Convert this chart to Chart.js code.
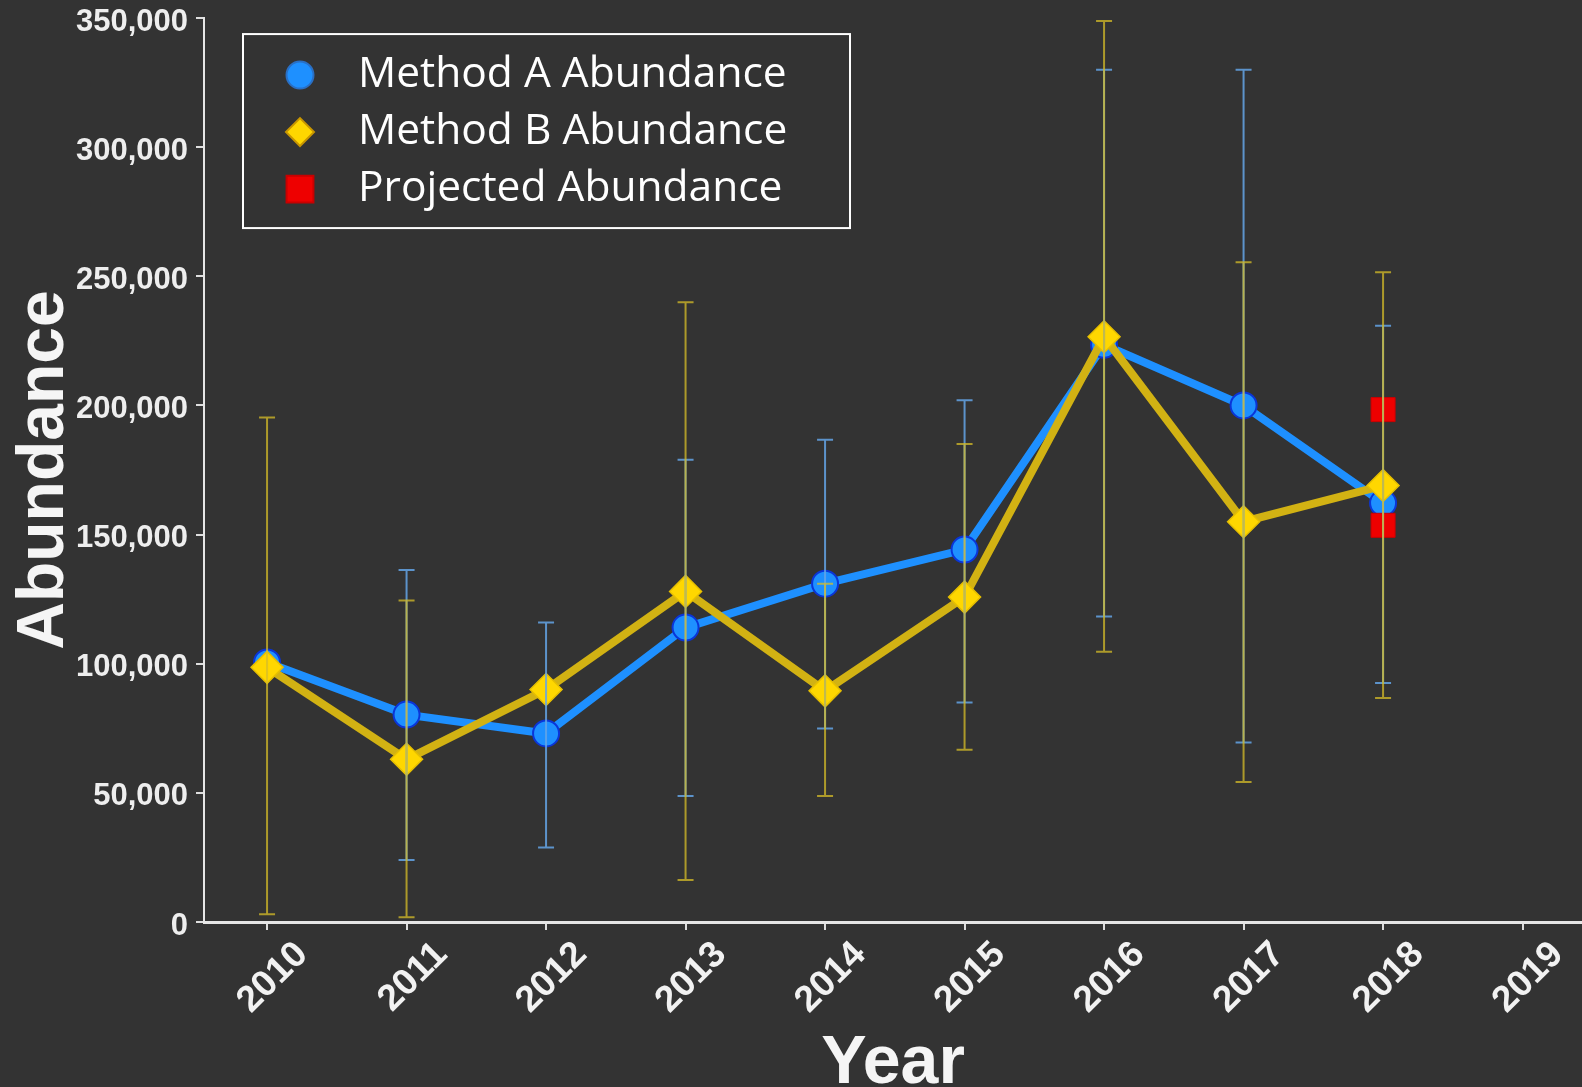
<!DOCTYPE html>
<html>
<head>
<meta charset="utf-8">
<script src="https://cdn.jsdelivr.net/npm/chart.js@4.4.1/dist/chart.umd.min.js"></script>
<style>
  html, body { margin: 0; padding: 0; background: #333333; overflow: hidden; }
  #wrap { position: relative; width: 1600px; height: 1087px; }
</style>
</head>
<body>
<div id="wrap"><canvas id="abundanceChart"></canvas></div>
<script>
// values
const years = [2010, 2011, 2012, 2013, 2014, 2015, 2016, 2017, 2018];
const methodA = [100500, 80300, 73000, 114000, 131000, 144200, 223500, 200000, 162200];
const methodB = [98600, 63000, 90000, 128000, 89500, 125800, 226600, 155000, 169000];
const methodALow = [null, 24000, 28800, 48800, 74900, 85000, 118300, 69500, 92500];
const methodAHigh = [null, 136300, 116000, 179000, 186700, 202000, 330000, 330000, 230900];
const methodBLow = [3000, 1800, null, 16300, 48800, 66700, 104600, 54200, 86700];
const methodBHigh = [195300, 124500, null, 240000, 131000, 185100, 348900, 255500, 251600];
const projectedYears = [2018, 2018];
const projected = [198400, 153600];
const tickYears = [2010, 2011, 2012, 2013, 2014, 2015, 2016, 2017, 2018, 2019];
const yTicks = [0, 50000, 100000, 150000, 200000, 250000, 300000, 350000];

const toPoints = (xs, ys) => xs.map((x, i) => ({ x: x, y: ys[i] }));

const errorBars = {
  id: 'errorBars',
  afterDatasetsDraw(chart) {
    const ctx = chart.ctx;
    const xs = chart.scales.x;
    const ys = chart.scales.y;
    const sets = [
      { low: methodALow, high: methodAHigh, color: 'rgba(100,165,230,0.85)' },
      { low: methodBLow, high: methodBHigh, color: 'rgba(215,190,40,0.75)' }
    ];
    ctx.save();
    ctx.lineWidth = 2;
    sets.forEach(s => {
      ctx.strokeStyle = s.color;
      years.forEach((yr, i) => {
        if (s.low[i] == null) return;
        const x = xs.getPixelForValue(yr);
        const y1 = ys.getPixelForValue(s.low[i]);
        const y2 = ys.getPixelForValue(s.high[i]);
        ctx.beginPath();
        ctx.moveTo(x, y1); ctx.lineTo(x, y2);
        ctx.moveTo(x - 8, y1); ctx.lineTo(x + 8, y1);
        ctx.moveTo(x - 8, y2); ctx.lineTo(x + 8, y2);
        ctx.stroke();
      });
    });
    ctx.restore();
  }
};

const boxLegend = {
  id: 'boxLegend',
  afterDraw(chart) {
    const ctx = chart.ctx;
    const area = chart.chartArea;
    const left = area.left + 39;
    const top = area.top + 16;
    const order = [2, 1, 0];
    ctx.save();
    ctx.fillStyle = '#333333';
    ctx.fillRect(left, top, 607, 194);
    ctx.strokeStyle = '#ffffff';
    ctx.lineWidth = 2;
    ctx.strokeRect(left, top, 607, 194);
    order.forEach((di, row) => {
      const ds = chart.data.datasets[di];
      const cy = top + 41 + row * 57;
      ctx.fillStyle = ds.legendFill;
      ctx.strokeStyle = ds.legendStroke;
      ctx.lineWidth = 2;
      Chart.helpers.drawPoint(ctx, {
        pointStyle: ds.pointStyle,
        radius: ds.legendRadius,
        borderWidth: 2,
        rotation: 0
      }, left + 57, cy);
      ctx.fillStyle = '#ffffff';
      ctx.font = '42.5px "Open Sans"';
      ctx.textBaseline = 'middle';
      ctx.textAlign = 'left';
      ctx.fillText(ds.label, left + 115, cy);
    });
    ctx.restore();
  }
};

const ctx = document.getElementById('abundanceChart').getContext('2d');
new Chart(ctx, {
  type: 'line',
  data: {
    datasets: [
      {
        label: 'Projected Abundance',
        data: toPoints(projectedYears, projected),
        showLine: false,
        pointStyle: 'rect',
        pointRadius: 17,
        pointBackgroundColor: '#ee0000',
        pointBorderColor: '#cc0000',
        pointBorderWidth: 1,
        legendFill: '#ee0000', legendStroke: '#c80000', legendRadius: 19
      },
      {
        label: 'Method B Abundance',
        data: toPoints(years, methodB),
        borderColor: '#d2b213',
        borderWidth: 8,
        tension: 0,
        pointStyle: 'rectRot',
        pointRadius: 16,
        pointBackgroundColor: '#ffd700',
        pointBorderColor: '#e6bf00',
        pointBorderWidth: 1.5,
        legendFill: '#ffd700', legendStroke: '#c89600', legendRadius: 14
      },
      {
        label: 'Method A Abundance',
        data: toPoints(years, methodA),
        borderColor: '#1e90ff',
        borderWidth: 8,
        tension: 0,
        pointStyle: 'circle',
        pointRadius: 13,
        pointBackgroundColor: '#1e90ff',
        pointBorderColor: '#0a35d8',
        pointBorderWidth: 2,
        legendFill: '#1e90ff', legendStroke: '#2a6fc4', legendRadius: 13.5
      }
    ]
  },
  options: {
    responsive: true,
    maintainAspectRatio: false,
    animation: false,
    layout: { padding: 0 },
    plugins: {
      legend: { display: false },
      tooltip: { enabled: false }
    },
    scales: {
      x: {
        type: 'linear',
        min: 2009.548,
        max: 2019.426,
        afterBuildTicks: scale => { scale.ticks = tickYears.map(v => ({ value: v })); },
        afterFit: scale => { scale.height = 165; },
        grid: { drawOnChartArea: false, color: '#dddddd', tickLength: 8, lineWidth: 2 },
        border: { display: true, color: '#e6e6e6', width: 3 },
        ticks: {
          autoSkip: false,
          minRotation: 45,
          maxRotation: 45,
          labelOffset: 35,
          padding: 3,
          color: '#f2f2f2',
          font: { family: '"Liberation Sans", Arial', size: 37, weight: 'bold' },
          callback: v => String(v)
        },
        title: {
          display: true,
          text: 'Year',
          color: '#f5f5f5',
          padding: { top: 0, bottom: 0 },
          font: { family: '"Liberation Sans", Arial', size: 68, weight: 'bold', lineHeight: 0.67 }
        }
      },
      y: {
        min: 0,
        max: 350000,
        afterBuildTicks: scale => { scale.ticks = yTicks.map(v => ({ value: v })); },
        afterFit: scale => { scale.width = 204; },
        grid: { drawOnChartArea: false, color: '#dddddd', tickLength: 8, lineWidth: 2 },
        border: { display: true, color: '#e6e6e6', width: 2 },
        ticks: {
          padding: 8,
          labelOffset: 4,
          color: '#eeeeee',
          font: { family: '"Liberation Sans", Arial', size: 31, weight: 'bold', lineHeight: 0.65 },
          callback: v => v.toLocaleString('en-US')
        },
        title: {
          display: true,
          text: 'Abundance',
          color: '#f5f5f5',
          padding: { top: 5, bottom: 0 },
          font: { family: '"Liberation Sans", Arial', size: 66, weight: 'bold', lineHeight: 1.2 }
        }
      }
    }
  },
  plugins: [errorBars, boxLegend]
});
</script>
</body>
</html>
